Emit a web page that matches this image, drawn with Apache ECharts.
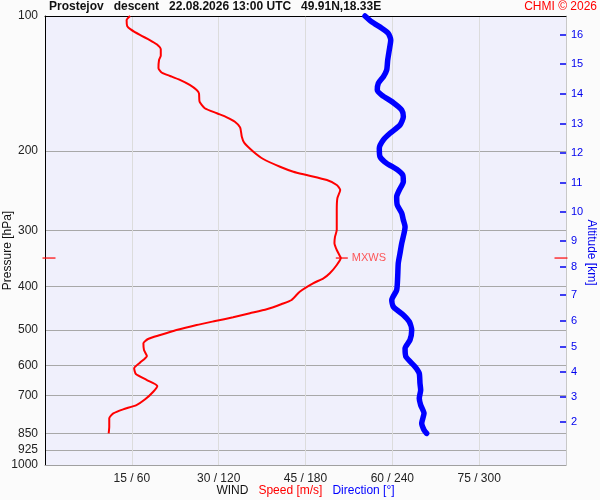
<!DOCTYPE html>
<html><head><meta charset="utf-8">
<script src="https://cdn.jsdelivr.net/npm/echarts@6/dist/echarts.min.js"></script>
<style>html,body{margin:0;padding:0;background:#fbfbfb}#c{width:600px;height:500px}</style>
</head><body><div id="c"></div>
<script>
const titleText = 'Prostejov   descent   22.08.2026 13:00 UTC   49.91N,18.33E';
const creditText = 'CHMI \u00a9 2026';
const pressureTicks = [100, 200, 300, 400, 500, 600, 700, 850, 925, 1000];
const windTicks = [15, 30, 45, 60, 75];
const windTickLabels = ['15 / 60', '30 / 120', '45 / 180', '60 / 240', '75 / 300'];
const altitudeKm = [2, 3, 4, 5, 6, 7, 8, 9, 10, 11, 12, 13, 14, 15, 16];
const altitudePressure = [802.2, 705.7, 620.8, 546.0, 477.9, 417.2, 362.2, 316.2, 273.3, 235.5, 201.9, 174.0, 149.2, 127.9, 110.2];

const speedPressure = [100.0, 102.1, 105.3, 107.1, 110.2, 113.1, 115.6, 118.6, 122.6, 125.3, 130.8, 133.8, 136.0, 138.8, 142.4, 146.2, 148.7, 155.2, 160.5, 164.7, 168.1, 172.0, 177.0, 185.8, 191.5, 200.6, 208.2, 216.6, 222.2, 226.0, 231.9, 237.9, 244.1, 254.7, 270.4, 299.7, 310.1, 320.8, 332.0, 343.6, 346.0, 358.5, 374.1, 383.9, 393.8, 411.2, 429.0, 437.9, 450.0, 459.3, 468.8, 477.9, 487.7, 500.5, 513.5, 524.1, 535.8, 554.5, 571.8, 591.8, 609.1, 627.2, 646.8, 667.1, 686.8, 714.1, 735.4, 751.7, 767.4, 787.2, 821.9, 850.2];
const speedValues = [14.7, 14.1, 14.2, 14.8, 16.4, 18.1, 19.3, 20.0, 20.0, 19.7, 19.6, 20.2, 21.6, 23.3, 25.0, 26.2, 26.6, 26.7, 27.6, 29.7, 31.4, 32.8, 33.7, 34.0, 34.4, 36.0, 37.7, 40.6, 42.9, 45.2, 48.7, 50.4, 51.0, 50.5, 50.4, 50.4, 50.1, 50.0, 50.4, 51.0, 51.1, 50.4, 49.2, 48.1, 46.3, 44.0, 42.6, 40.9, 38.3, 35.4, 32.5, 29.4, 26.2, 22.7, 19.9, 17.8, 17.0, 17.1, 17.6, 16.4, 15.4, 15.7, 17.6, 19.4, 18.7, 17.3, 15.8, 13.5, 11.8, 11.1, 11.1, 11.0];

const dirPressure = [100.0, 103.0, 106.5, 109.3, 113.1, 119.0, 125.3, 131.9, 136.5, 141.2, 146.2, 150.0, 156.0, 162.0, 167.6, 174.9, 182.5, 188.8, 197.0, 205.8, 212.9, 219.5, 226.0, 233.9, 244.1, 252.7, 263.6, 275.1, 284.7, 294.6, 304.8, 320.8, 337.7, 355.4, 380.7, 407.7, 429.0, 444.1, 463.4, 479.6, 500.5, 526.8, 549.7, 573.9, 604.0, 625.0, 657.7, 680.7, 710.5, 735.4, 767.4, 807.6, 835.9, 850.2];
const dirValues = [221.1, 225.7, 232.7, 237.2, 238.9, 237.9, 236.8, 236.1, 233.8, 230.3, 229.6, 232.7, 240.7, 246.5, 247.6, 245.3, 238.4, 233.8, 231.0, 231.5, 236.1, 243.0, 247.2, 247.6, 244.8, 243.0, 243.4, 246.5, 247.6, 248.8, 248.1, 246.5, 245.3, 244.1, 243.7, 243.0, 239.6, 240.7, 247.6, 251.7, 253.4, 252.2, 248.8, 249.4, 255.7, 258.6, 259.1, 259.6, 258.6, 259.6, 261.9, 260.3, 261.9, 263.7];

const mxwsSpeed = 51.1;
const mxwsPressure = 346.0;

function nearestKm(v) {
  let best = 0, bd = Infinity;
  altitudePressure.forEach((p, i) => { const d = Math.abs(p - v); if (d < bd) { bd = d; best = i; } });
  return String(altitudeKm[best]);
}

const chart = echarts.init(document.getElementById('c'), null, {renderer: 'canvas'});
const FONT = 'Liberation Sans, Arial, sans-serif';
chart.setOption({
  animation: false,
  backgroundColor: '#fbfbfb',
  textStyle: {fontFamily: FONT},
  title: [
    {text: titleText, left: 49, top: 1, padding: 0, textStyle: {fontSize: 12, fontWeight: 'bold', color: '#111', fontFamily: FONT}},
    {text: creditText, right: 3, top: 1, padding: 0, textStyle: {fontSize: 12, fontWeight: 'normal', color: '#ff0000', fontFamily: FONT}}
  ],
  grid: {left: 45, right: 34, top: 16, bottom: 35, show: true, backgroundColor: '#f0f0fc', borderWidth: 0, containLabel: false, outerBoundsMode: 'none'},
  xAxis: [
    {
      type: 'value', min: 0, max: 90, interval: 15, position: 'bottom',
      axisLine: {show: true, onZero: false, lineStyle: {color: '#a0a0a0', width: 1}},
      axisTick: {show: false},
      axisLabel: {color: '#222', fontSize: 12, margin: 8, showMinLabel: false, showMaxLabel: false,
        formatter: v => { const i = windTicks.indexOf(v); return i >= 0 ? windTickLabels[i] : ''; }},
      splitLine: {show: true, lineStyle: {color: '#dcdcdc', width: 1}},
      name: '{w|WIND}   {s|Speed [m/s]}   {d|Direction [\u00b0]}',
      nameLocation: 'middle', nameGap: 20, nameMoveOverlap: false,
      nameTextStyle: {rich: {w: {color: '#111', fontSize: 12}, s: {color: '#ff0000', fontSize: 12}, d: {color: '#0000ff', fontSize: 12}}}
    },
    {
      type: 'value', min: 0, max: 360, position: 'top',
      axisLine: {show: true, onZero: false, lineStyle: {color: '#000', width: 1}},
      axisTick: {show: false}, axisLabel: {show: false}, splitLine: {show: false}
    }
  ],
  yAxis: [
    {
      type: 'log', logBase: 10, inverse: true, min: 100, max: 1000, position: 'left',
      axisLine: {show: true, onZero: false, lineStyle: {color: '#000', width: 1}},
      axisTick: {show: false, customValues: pressureTicks},
      axisLabel: {customValues: pressureTicks, color: '#222', fontSize: 12, margin: 7, formatter: v => String(Math.round(v))},
      splitLine: {show: true, lineStyle: {color: '#a8a8a8', width: 1}},
      name: 'Pressure [hPa]', nameLocation: 'middle', nameGap: 31, nameRotate: 90, nameMoveOverlap: false,
      nameTextStyle: {color: '#111', fontSize: 12, padding: [0, 20, 0, 0]}
    },
    {
      type: 'log', logBase: 10, inverse: true, min: 100, max: 1000, position: 'right',
      axisLine: {show: true, onZero: false, lineStyle: {color: '#c8c8c8', width: 1}},
      axisTick: {show: true, inside: true, length: 6, customValues: altitudePressure, lineStyle: {color: '#0000ee', width: 1.5}},
      axisLabel: {customValues: altitudePressure, color: '#0000ee', fontSize: 11, margin: 5, formatter: v => nearestKm(v)},
      splitLine: {show: false},
      name: 'Altitude [km]', nameLocation: 'middle', nameGap: 19, nameRotate: -90, nameMoveOverlap: false,
      nameTextStyle: {color: '#0000ee', fontSize: 12, padding: [0, 0, 0, 24]}
    }
  ],
  series: [
    {
      type: 'line', xAxisIndex: 0, yAxisIndex: 0, clip: false,
      data: speedPressure.map((p, i) => [speedValues[i], p]),
      showSymbol: false, smooth: 0.2,
      lineStyle: {color: '#ff0000', width: 2}, z: 3
    },
    {
      type: 'line', xAxisIndex: 1, yAxisIndex: 0, clip: false,
      data: dirPressure.map((p, i) => [dirValues[i], p]),
      showSymbol: false, smooth: 0.2,
      lineStyle: {color: '#0000ff', width: 5.5, cap: 'round'}, z: 3
    },
    {
      type: 'scatter', xAxisIndex: 0, yAxisIndex: 0, clip: false, silent: true,
      data: [[mxwsSpeed, mxwsPressure]],
      symbol: 'rect', symbolSize: [12, 1.5], symbolOffset: [1, 0],
      itemStyle: {color: '#ff0000'},
      label: {show: true, position: 'right', distance: 4, formatter: 'MXWS', color: '#ff3030', fontSize: 11},
      z: 5
    },
    {
      type: 'scatter', xAxisIndex: 0, yAxisIndex: 0, clip: false, silent: true,
      data: [{value: [0, mxwsPressure], symbolOffset: [4, 0]}, {value: [90, mxwsPressure], symbolOffset: [-5, 0]}],
      symbol: 'rect', symbolSize: [13, 1.5],
      itemStyle: {color: '#ff0000'}, z: 6
    }
  ]
});
</script>
</body></html>
